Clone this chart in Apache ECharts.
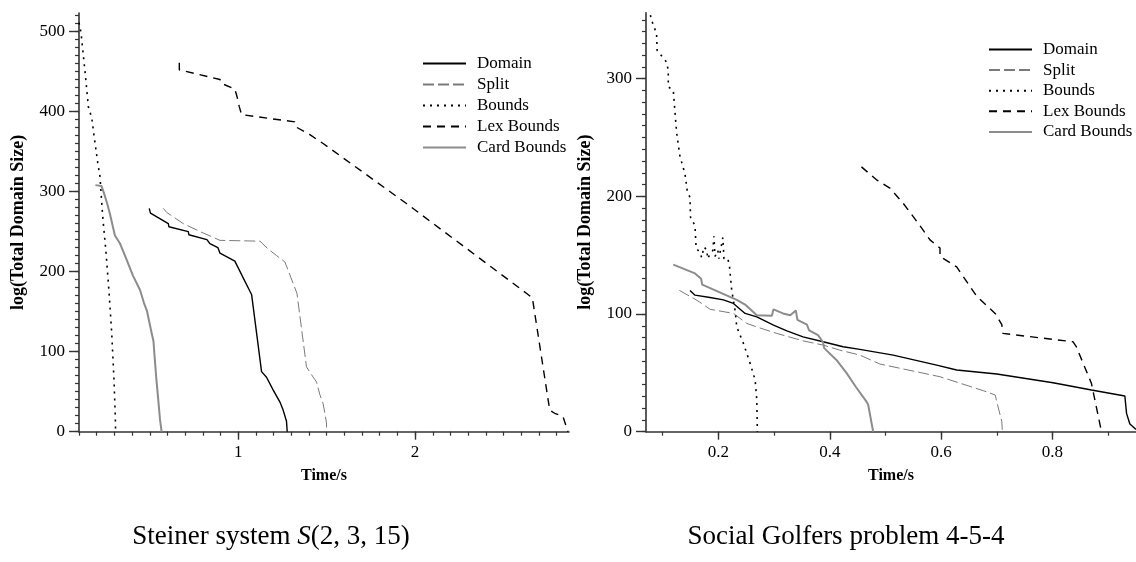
<!DOCTYPE html>
<html><head><meta charset="utf-8">
<script src="https://cdn.jsdelivr.net/npm/echarts@6/dist/echarts.min.js"></script>
<style>html,body{margin:0;padding:0;background:#fff}#c{width:1136px;height:562px}</style>
</head><body><div id="c"></div>
<script>
// ---------- data: [time (s), log(total domain size)] ----------
const seriesNames = ['Domain', 'Split', 'Bounds', 'Lex Bounds', 'Card Bounds'];

const leftDomain = [[0.497,279],[0.504,273],[0.605,260],[0.608,256],[0.718,250],[0.721,246],[0.823,240],[0.840,235],[0.885,230],[0.897,223],[0.981,213],[1.076,171],[1.132,75],[1.160,68],[1.198,52],[1.236,37],[1.254,27],[1.273,13],[1.277,0]];
const leftSplit = [[0.576,279],[0.595,274],[0.689,260],[0.784,250],[0.897,239],[1.123,238],[1.170,228],[1.217,220],[1.264,212],[1.332,173],[1.386,81],[1.415,71],[1.443,62],[1.462,46],[1.480,35],[1.490,23],[1.499,11],[1.500,0]];
const leftBounds = [[0.100,511],[0.111,499],[0.134,450],[0.153,406],[0.172,392],[0.186,368],[0.206,336],[0.219,318],[0.230,281],[0.236,264],[0.253,223],[0.269,177],[0.285,123],[0.298,64],[0.305,20],[0.307,0]];
const leftLex = [[0.667,461],[0.667,452],[0.897,440],[0.906,435],[0.981,428],[0.994,418],[1.006,406],[1.019,396],[1.320,387],[1.332,380],[1.405,371],[1.480,360],[1.951,285],[2.629,173],[2.663,167],[2.761,27],[2.789,23],[2.836,19],[2.864,0]];
const leftCard = [[0.193,308],[0.227,307],[0.241,298],[0.258,286],[0.275,272],[0.303,245],[0.332,235],[0.360,220],[0.405,195],[0.445,177],[0.467,161],[0.484,151],[0.507,127],[0.521,113],[0.529,89],[0.538,64],[0.548,40],[0.558,15],[0.567,0]];

const rightDomain = [[0.149,120],[0.158,116],[0.185,114],[0.209,112],[0.227,109],[0.248,100.5],[0.269,97.6],[0.299,90.6],[0.323,85.7],[0.352,80.6],[0.388,76.4],[0.424,72.2],[0.454,69.9],[0.514,65.1],[0.592,56.6],[0.628,52.4],[0.700,49],[0.801,41.6],[0.870,35.4],[0.930,30.3],[0.933,15.6],[0.939,6.5],[0.950,2]];
const rightSplit = [[0.130,120],[0.158,112.6],[0.170,109],[0.185,104],[0.227,100.5],[0.251,92],[0.269,89],[0.305,83.5],[0.352,77.2],[0.388,73.6],[0.418,69.3],[0.454,65.1],[0.490,57.5],[0.598,46.7],[0.676,34.8],[0.697,31.2],[0.709,8.5],[0.710,0]];
const rightBounds = [[0.078,354],[0.079,351],[0.089,338],[0.090,324],[0.107,314],[0.110,307],[0.110,293],[0.119,290],[0.125,254],[0.131,234],[0.140,219],[0.144,205],[0.149,199],[0.150,182],[0.158,175],[0.160,156],[0.167,152],[0.170,148],[0.172,148],[0.174,157],[0.180,154],[0.180,147],[0.190,154],[0.192,166],[0.194,149],[0.199,154],[0.201,147],[0.208,165],[0.210,147],[0.217,147],[0.220,140],[0.224,120],[0.230,103],[0.233,89],[0.245,75],[0.257,58],[0.266,44],[0.269,27],[0.270,0]];
const rightLex = [[0.457,225],[0.484,214],[0.508,207],[0.532,194],[0.559,177],[0.580,163],[0.598,156],[0.598,149],[0.628,140],[0.664,115],[0.697,100.5],[0.709,91],[0.711,83.5],[0.837,76.4],[0.843,72],[0.870,41],[0.888,0]];
const rightCard = [[0.119,142],[0.158,134.5],[0.169,130],[0.171,125],[0.233,112],[0.248,108],[0.269,99],[0.296,98.5],[0.299,104],[0.316,100.5],[0.329,99],[0.339,103],[0.342,95],[0.359,91],[0.363,86],[0.379,82],[0.388,76],[0.390,71],[0.412,61],[0.430,50],[0.447,38],[0.466,25.5],[0.469,23],[0.478,0]];

// ---------- ticks ----------
const leftXLabels = [1, 2];
const rightXLabels = [0.2, 0.4, 0.6, 0.8];
const leftYLabels = [0, 100, 200, 300, 400, 500];
const rightYLabels = [0, 100, 200, 300];
function steps(a, b, s) { const r = []; for (let i = 0; a + i * s <= b + 1e-9; i++) r.push(+(a + i * s).toFixed(4)); return r; }
const leftXMinor = steps(0.1, 2.8, 0.1);
const rightXMinor = steps(0.1, 0.9, 0.1);
const leftYMinor = steps(0, 520, 10);
const rightYMinor = steps(0, 350, 10);

const captionLeft = 'Steiner system {i|S}(2, 3, 15)';
const captionRight = 'Social Golfers problem 4-5-4';

// ---------- styles ----------
const SERIF = "'Liberation Serif','Times New Roman',serif";
const AX = '#333';
const styles = {
  'Domain': { color: '#000', width: 1.4, type: 'solid' },
  'Split': { color: '#7a7a7a', width: 1, type: [11, 4] },
  'Bounds': { color: '#000', width: 1.6, type: [2, 5] },
  'Lex Bounds': { color: '#000', width: 1.4, type: [8, 6] },
  'Card Bounds': { color: '#8c8c8c', width: 2, type: 'solid' }
};
const leftData = [leftDomain, leftSplit, leftBounds, leftLex, leftCard];
const rightData = [rightDomain, rightSplit, rightBounds, rightLex, rightCard];

function makeSeries(dataList, gi) {
  return seriesNames.map((n, i) => ({
    name: n, type: 'line', data: dataList[i],
    xAxisIndex: gi * 2, yAxisIndex: gi * 2,
    symbol: 'none', showSymbol: false, silent: true, animation: false,
    lineStyle: { color: styles[n].color, width: styles[n].width, type: styles[n].type },
    itemStyle: { color: styles[n].color }
  }));
}

function xAxes(gi, min, max, minor, major) {
  return [
    { gridIndex: gi, type: 'value', position: 'bottom', min, max,
      axisLine: { show: true, onZero: false, lineStyle: { color: AX, width: 1.6 } },
      axisTick: { show: true, customValues: minor, length: 4, lineStyle: { color: AX, width: 1.2 } },
      axisLabel: { show: false }, splitLine: { show: false },
      name: 'Time/s', nameLocation: 'middle', nameGap: 36,
      nameTextStyle: { fontFamily: SERIF, fontWeight: 'bold', fontSize: 16, color: '#000' } },
    { gridIndex: gi, type: 'value', position: 'bottom', min, max,
      axisLine: { show: false, onZero: false },
      axisTick: { show: true, customValues: major, length: 8, lineStyle: { color: AX, width: 1.4 } },
      axisLabel: { show: true, customValues: major, margin: 12, fontFamily: SERIF, fontSize: 17, color: '#000' },
      splitLine: { show: false } }
  ];
}
function yAxes(gi, max, minor, major) {
  return [
    { gridIndex: gi, type: 'value', position: 'left', min: 0, max,
      axisLine: { show: true, onZero: false, lineStyle: { color: AX, width: 1.6 } },
      axisTick: { show: true, customValues: minor, length: 4, lineStyle: { color: AX, width: 1.2 } },
      axisLabel: { show: false }, splitLine: { show: false },
      name: 'log(Total Domain Size)', nameLocation: 'middle', nameGap: 52,
      nameTextStyle: { fontFamily: SERIF, fontWeight: 'bold', fontSize: 18, color: '#000' } },
    { gridIndex: gi, type: 'value', position: 'left', min: 0, max,
      axisLine: { show: false, onZero: false },
      axisTick: { show: true, customValues: major, length: 10, lineStyle: { color: AX, width: 1.4 } },
      axisLabel: { show: true, customValues: major, margin: 14, fontFamily: SERIF, fontSize: 17, color: '#000' },
      splitLine: { show: false } }
  ];
}
function legend(left, top, gap) {
  return { left, top, orient: 'vertical', padding: 0, itemWidth: 43, itemHeight: 14, itemGap: gap,
    selectedMode: false, data: seriesNames,
    itemStyle: { opacity: 0, color: 'rgba(0,0,0,0)', borderColor: 'rgba(0,0,0,0)', borderWidth: 0 },
    textStyle: { fontFamily: SERIF, fontSize: 17, color: '#000', padding: [0, 0, 0, 6] } };
}

const chart = echarts.init(document.getElementById('c'));
chart.setOption({
  backgroundColor: '#fff',
  animation: false,
  grid: [
    { left: 79, top: 13, width: 490, height: 418.7, outerBoundsMode: 'none' },
    { left: 646, top: 12.7, width: 490, height: 419, outerBoundsMode: 'none' }
  ],
  xAxis: [...xAxes(0, 0.1, 2.87, leftXMinor, leftXLabels), ...xAxes(1, 0.07, 0.95, rightXMinor, rightXLabels)],
  yAxis: [...yAxes(0, 523, leftYMinor, leftYLabels), ...yAxes(1, 356, rightYMinor, rightYLabels)],
  legend: [legend(422, 55, 4), legend(988, 41, 3.6)],
  series: [...makeSeries(leftData, 0), ...makeSeries(rightData, 1)],
  graphic: [
    { type: 'text', x: 271, y: 537, silent: true,
      style: { text: captionLeft, font: "27px " + SERIF, fill: '#000', align: 'center', verticalAlign: 'middle',
        rich: { i: { fontStyle: 'italic', fontSize: 27, fontFamily: SERIF } } } },
    { type: 'text', x: 846, y: 537, silent: true,
      style: { text: captionRight, font: "27px " + SERIF, fill: '#000', align: 'center', verticalAlign: 'middle' } }
  ]
});
</script>
</body></html>
